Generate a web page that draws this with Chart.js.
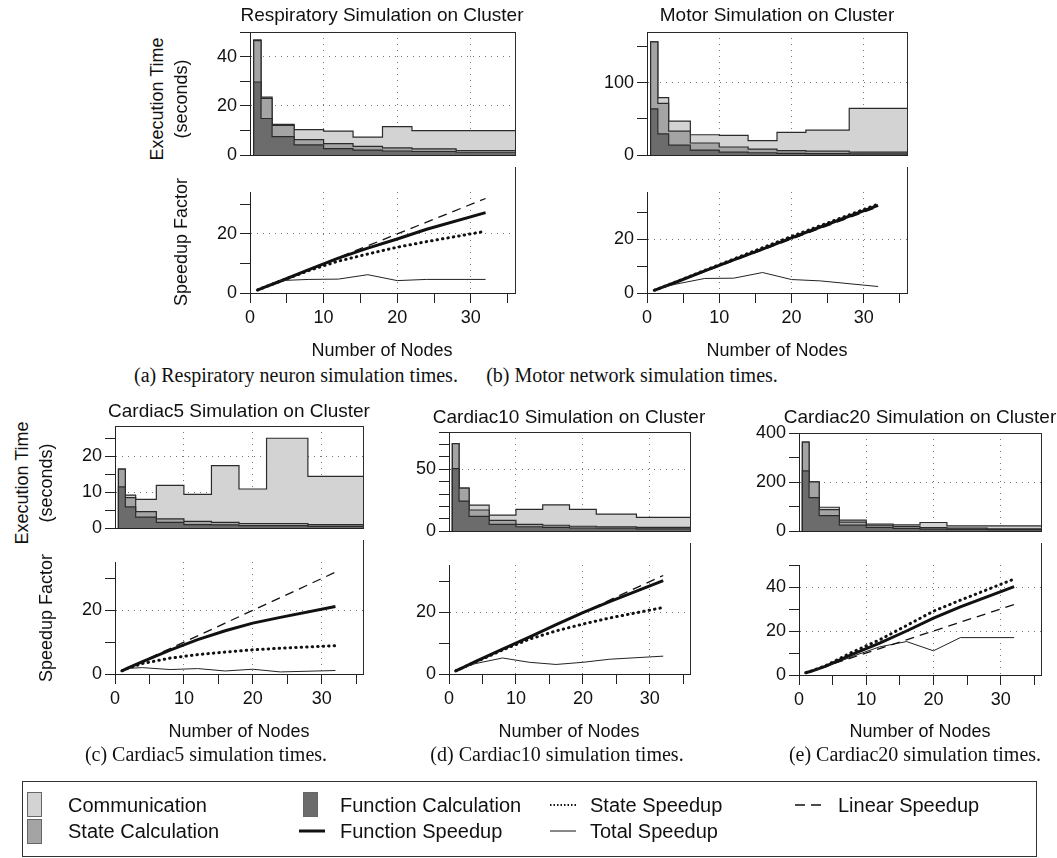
<!DOCTYPE html>
<html>
<head>
<meta charset="utf-8">
<title>Simulation times on cluster</title>
<script src="https://cdn.jsdelivr.net/npm/chart.js@4.4.1/dist/chart.umd.min.js"></script>
<style>
  html, body { margin: 0; background: #fff; }
  #fig { position: relative; width: 1057px; height: 858px; overflow: hidden;
         font-family: 'Liberation Sans', Arial, sans-serif; color: #111; }
  #fig canvas { position: absolute; }
  .lbl { position: absolute; white-space: nowrap; transform: translate(-50%, -50%); font-size: 18px; line-height: 1; }
  .ttl { font-size: 19px; }
  .vert { transform: translate(-50%, -50%) rotate(-90deg); }
  .cap { font-family: 'Liberation Serif', 'Times New Roman', serif; font-size: 20px; }
  #legend { position: absolute; left: 22px; top: 781px; width: 1015px; height: 76px; border: 1px solid #333; box-sizing: border-box; }
  .sw { position: absolute; width: 15px; height: 25px; border: 1px solid #666; box-sizing: border-box; }
  .leg { position: absolute; font-size: 20px; line-height: 1; transform: translateY(-50%); white-space: nowrap; }
  #legsvg { position: absolute; left: 0; top: 0; }
</style>
</head>
<body>
<div id="fig">
  <canvas id="aTop"></canvas><canvas id="aBot"></canvas>
  <canvas id="bTop"></canvas><canvas id="bBot"></canvas>
  <canvas id="cTop"></canvas><canvas id="cBot"></canvas>
  <canvas id="dTop"></canvas><canvas id="dBot"></canvas>
  <canvas id="eTop"></canvas><canvas id="eBot"></canvas>

  <div class="lbl ttl" style="left:382px;top:14px">Respiratory Simulation on Cluster</div>
  <div class="lbl ttl" style="left:777px;top:14px">Motor Simulation on Cluster</div>
  <div class="lbl ttl" style="left:239px;top:410px">Cardiac5 Simulation on Cluster</div>
  <div class="lbl ttl" style="left:569px;top:416px">Cardiac10 Simulation on Cluster</div>
  <div class="lbl ttl" style="left:920px;top:416px">Cardiac20 Simulation on Cluster</div>

  <div class="lbl vert" style="left:157px;top:99px">Execution Time</div>
  <div class="lbl vert" style="left:181px;top:99px">(seconds)</div>
  <div class="lbl vert" style="left:181px;top:242px">Speedup Factor</div>
  <div class="lbl vert" style="left:22px;top:483px">Execution Time</div>
  <div class="lbl vert" style="left:46px;top:483px">(seconds)</div>
  <div class="lbl vert" style="left:46px;top:618px">Speedup Factor</div>

  <div class="lbl" style="left:382px;top:350px">Number of Nodes</div>
  <div class="lbl" style="left:777px;top:350px">Number of Nodes</div>
  <div class="lbl" style="left:239px;top:731px">Number of Nodes</div>
  <div class="lbl" style="left:569px;top:731px">Number of Nodes</div>
  <div class="lbl" style="left:920px;top:731px">Number of Nodes</div>

  <div class="lbl cap" style="left:296px;top:375px">(a) Respiratory neuron simulation times.</div>
  <div class="lbl cap" style="left:632px;top:375px">(b) Motor network simulation times.</div>
  <div class="lbl cap" style="left:206px;top:754px">(c) Cardiac5 simulation times.</div>
  <div class="lbl cap" style="left:557px;top:754px">(d) Cardiac10 simulation times.</div>
  <div class="lbl cap" style="left:915px;top:754px">(e) Cardiac20 simulation times.</div>

  <div id="legend"></div>
  <div class="sw" style="left:27px;top:792px;background:#d3d3d3"></div>
  <div class="sw" style="left:27px;top:819px;background:#a4a4a4"></div>
  <div class="sw" style="left:303px;top:792px;background:#6c6c6c"></div>
  <svg id="legsvg" width="1057" height="858">
    <line x1="550" y1="805" x2="576" y2="805" stroke="#111" stroke-width="2" stroke-dasharray="1.5 2"/>
    <line x1="299" y1="831" x2="325" y2="831" stroke="#111" stroke-width="3"/>
    <line x1="550" y1="831" x2="576" y2="831" stroke="#111" stroke-width="1"/>
    <line x1="795" y1="805" x2="823" y2="805" stroke="#111" stroke-width="1.3" stroke-dasharray="10 6"/>
  </svg>
  <div class="leg" style="left:68px;top:805px">Communication</div>
  <div class="leg" style="left:68px;top:831px">State Calculation</div>
  <div class="leg" style="left:340px;top:805px">Function Calculation</div>
  <div class="leg" style="left:340px;top:831px">Function Speedup</div>
  <div class="leg" style="left:590px;top:805px">State Speedup</div>
  <div class="leg" style="left:590px;top:831px">Total Speedup</div>
  <div class="leg" style="left:838px;top:805px">Linear Speedup</div>
</div>

<script>
// node counts of every run
const nodes = [1, 2, 4, 8, 12, 16, 20, 24, 32];
const linearSpeedup = [1, 2, 4, 8, 12, 16, 20, 24, 32];

// (a) respiratory neuron simulation, seconds
const respFunc  = [29.7, 14.9, 7.5, 4.2, 2.7, 2.1, 1.7, 1.5, 1.2];
const respState = [16.8, 8.2, 4.6, 2.1, 2.0, 1.5, 1.3, 1.1, 0.7];
const respComm  = [0.3, 0.5, 0.4, 4.1, 5.1, 3.7, 8.6, 7.4, 8.1];
const respFuncSpeedup  = [1, 2, 3.9, 7.9, 11.8, 15.2, 18.3, 21.6, 27.2];
const respStateSpeedup = [1, 2, 3.9, 7.6, 10.8, 13.2, 15.5, 17.4, 20.9];
const respTotalSpeedup = [1, 2.2, 4.2, 4.6, 4.7, 6.2, 4.2, 4.6, 4.6];

// (b) motor network simulation
const motorFunc  = [63.9, 29.4, 13.9, 7.1, 4.2, 3.4, 2.5, 2.1, 1.7];
const motorState = [92.4, 42.0, 19.3, 9.7, 7.1, 5.0, 3.8, 3.4, 2.5];
const motorComm  = [0, 8.0, 13.9, 11.4, 16.0, 11.8, 25.2, 29.0, 60.5];
const motorFuncSpeedup  = [1, 2, 4, 8.2, 12.3, 16.3, 20.5, 24.5, 32.5];
const motorStateSpeedup = [1, 2, 4.1, 8.4, 12.6, 16.8, 21, 25, 33];
const motorTotalSpeedup = [1, 2, 3.3, 5.4, 5.5, 7.6, 5.0, 4.5, 2.4];

// (c) cardiac5
const c5Func  = [11.5, 5.9, 3.1, 1.6, 1.0, 0.9, 0.7, 0.7, 0.5];
const c5State = [4.9, 2.6, 1.5, 1.0, 0.9, 0.7, 0.6, 0.6, 0.5];
const c5Comm  = [0, 0.7, 3.4, 9.3, 7.5, 15.8, 9.6, 23.7, 13.4];
const c5FuncSpeedup  = [1, 2, 3.9, 7.5, 10.8, 13.6, 16, 17.8, 21.2];
const c5StateSpeedup = [1, 1.9, 3.3, 5.0, 6.1, 6.9, 7.6, 8.1, 8.9];
const c5TotalSpeedup = [1, 1.8, 2.0, 1.4, 1.7, 0.95, 1.5, 0.65, 1.1];

// (d) cardiac10
const c10Func  = [50.5, 24.3, 11.9, 5.5, 3.6, 3.1, 2.6, 2.4, 1.9];
const c10State = [20.2, 10.5, 5.2, 3.3, 1.9, 1.7, 1.4, 1.2, 1.2];
const c10Comm  = [0, 0, 3.9, 4.1, 12.1, 16.4, 13.6, 10.2, 8.1];
const c10FuncSpeedup  = [1, 2, 4.1, 8.1, 12, 16, 19.9, 23.5, 30.3];
const c10StateSpeedup = [1, 2, 3.9, 7.8, 11.3, 14, 16.2, 18.2, 21.6];
const c10TotalSpeedup = [1, 2, 3.4, 5.2, 3.8, 3.1, 3.8, 4.8, 5.8];

// (e) cardiac20
const c20Func  = [246, 137, 63.4, 24.4, 15.9, 11, 8.5, 7.3, 6.1];
const c20State = [117, 64, 24.4, 12.2, 8.5, 7.3, 6.1, 4.9, 3.7];
const c20Comm  = [0, 0, 9.8, 8.4, 4.9, 7.3, 20.8, 9.8, 12.2];
const c20FuncSpeedup  = [1, 1.9, 4, 9.5, 14.5, 20, 25.8, 31, 40.2];
const c20StateSpeedup = [1, 2, 4.3, 10.5, 16, 22.5, 29, 34, 43.6];
const c20TotalSpeedup = [1, 1.8, 3.7, 8.5, 12.8, 15.2, 11, 17, 17];

Chart.defaults.font.family = "'Liberation Sans', Arial, sans-serif";
Chart.defaults.font.size = 18;
Chart.defaults.color = '#111';

const FILL_COMM = '#d3d3d3', FILL_STATE = '#a4a4a4', FILL_FUNC = '#6c6c6c';
const X_MAX = 36;

// box lines the axes don't draw (top edge, right edge)
const framePlugin = {
  id: 'frame',
  afterDraw(chart, args, o) {
    const { ctx, chartArea: a } = chart;
    const x = Math.round(a.right) + 0.5;
    ctx.save();
    ctx.strokeStyle = '#2b2b2b';
    ctx.lineWidth = 1;
    ctx.beginPath();
    if (o.top) { ctx.moveTo(a.left, Math.round(a.top) + 0.5); ctx.lineTo(x, Math.round(a.top) + 0.5); }
    ctx.moveTo(x, o.rightFrom !== undefined ? o.rightFrom : a.top);
    ctx.lineTo(x, a.bottom);
    ctx.stroke();
    ctx.restore();
  }
};

const onStep = (v, step) => Math.abs(v / step - Math.round(v / step)) < 1e-6;

function gridAt(labelStep, max) {
  return c => {
    const v = c.tick ? c.tick.value : 0;
    return v > 0 && v < max - 1e-6 && onStep(v, labelStep) ? '#777' : 'rgba(0,0,0,0)';
  };
}

function yScale(max, step, labelStep, width, stacked) {
  return {
    type: 'linear', min: 0, max, stacked,
    afterFit: s => { s.width = width; },
    ticks: { stepSize: step, includeBounds: false, padding: 3, autoSkip: false,
             callback: v => (onStep(v, labelStep) ? v : '') },
    grid: { color: gridAt(labelStep, max), tickColor: '#222', tickLength: 10, tickBorderDash: [] },
    border: { color: '#222', dash: [1, 5] }
  };
}

function xScale(height, showTicks) {
  return {
    type: 'linear', min: 0, max: X_MAX,
    afterFit: s => { s.height = height; },
    ticks: { display: showTicks, stepSize: 5, includeBounds: false, padding: 4, autoSkip: false, maxRotation: 0,
             callback: v => (onStep(v, 10) ? v : '') },
    grid: { color: gridAt(10, X_MAX), tickColor: '#222', tickLength: 10, drawTicks: showTicks, tickBorderDash: [] },
    border: { color: '#222', dash: [1, 5] }
  };
}

// stacked stairs: each run's bar spans halfway to its neighbours,
// starting from zero just left of the first bar so its left edge is outlined
function stairs(func, state, comm) {
  const firstEdge = nodes[0] - (nodes[1] - nodes[0]) / 2;
  const xs = [firstEdge - 0.001, firstEdge, ...nodes, X_MAX];
  const pts = arr => {
    const v = [0, arr[0], ...arr, arr[arr.length - 1]];
    return xs.map((x, i) => ({ x, y: v[i] }));
  };
  return [
    { label: 'Function Calculation', data: pts(func), backgroundColor: FILL_FUNC, fill: 'origin' },
    { label: 'State Calculation', data: pts(state), backgroundColor: FILL_STATE, fill: '-1' },
    { label: 'Communication', data: pts(comm), backgroundColor: FILL_COMM, fill: '-1' }
  ].map(d => Object.assign(d, { stepped: 'middle', borderColor: '#2b2b2b', borderWidth: 1.2, pointRadius: 0 }));
}

function speedLines(func, state, total) {
  const pts = arr => nodes.map((x, i) => ({ x, y: arr[i] }));
  return [
    { label: 'Linear Speedup', data: pts(linearSpeedup), borderWidth: 1.3, borderDash: [9, 6] },
    { label: 'Total Speedup', data: pts(total), borderWidth: 1, borderColor: '#222' },
    { label: 'State Speedup', data: pts(state), borderWidth: 3, borderDash: [0.5, 5], borderCapStyle: 'round' },
    { label: 'Function Speedup', data: pts(func), borderWidth: 3 }
  ].map(d => Object.assign({ borderColor: '#111', pointRadius: 0, fill: false, tension: 0 }, d));
}

function makeChart(id, g, datasets, xs, ys, frame) {
  const c = document.getElementById(id);
  c.width = g.r - g.l + g.padL + g.padR;
  c.height = g.b - g.t + g.padT + g.padB;
  c.style.left = (g.l - g.padL) + 'px';
  c.style.top = (g.t - g.padT) + 'px';
  return new Chart(c, {
    type: 'line',
    data: { datasets },
    options: {
      responsive: false, animation: false, devicePixelRatio: 1,
      layout: { padding: { top: g.padT, right: g.padR, left: 0, bottom: 0 } },
      plugins: { legend: { display: false }, tooltip: { enabled: false }, frame },
      scales: { x: xs, y: ys }
    },
    plugins: [framePlugin]
  });
}

function panel(id, top, bot, times, speed, yTop, yBot) {
  const t = Object.assign({ padL: 70, padT: 14, padR: 6, padB: 2 }, top);
  const b = Object.assign({ padL: 70, padT: bot.t - top.b, padR: 6, padB: 40 }, bot);
  makeChart(id + 'Top', t, stairs(...times), xScale(t.padB, false),
            yScale(yTop[0], yTop[1], yTop[2], t.padL, true), { top: true });
  makeChart(id + 'Bot', b, speedLines(...speed), xScale(b.padB, true),
            yScale(yBot[0], yBot[1], yBot[2], b.padL, false), { top: false, rightFrom: 0 });
}

panel('a', { l: 250, t: 32, r: 515, b: 167 }, { l: 250, t: 192, r: 515, b: 293 },
      [respFunc, respState, respComm], [respFuncSpeedup, respStateSpeedup, respTotalSpeedup],
      [50, 10, 20], [34.2, 10, 20]);
panel('b', { l: 647, t: 32, r: 907, b: 167 }, { l: 647, t: 192, r: 907, b: 293 },
      [motorFunc, motorState, motorComm], [motorFuncSpeedup, motorStateSpeedup, motorTotalSpeedup],
      [170, 50, 100], [37.5, 10, 20]);
panel('c', { l: 115, t: 426, r: 363, b: 540 }, { l: 115, t: 562, r: 363, b: 674 },
      [c5Func, c5State, c5Comm], [c5FuncSpeedup, c5StateSpeedup, c5TotalSpeedup],
      [28.4, 5, 10], [35.2, 10, 20]);
panel('d', { l: 449, t: 432, r: 690, b: 543 }, { l: 449, t: 565, r: 690, b: 674 },
      [c10Func, c10State, c10Comm], [c10FuncSpeedup, c10StateSpeedup, c10TotalSpeedup],
      [80, 10, 50], [35.4, 10, 20]);
panel('e', { l: 799, t: 433, r: 1041, b: 543 }, { l: 799, t: 565, r: 1041, b: 675 },
      [c20Func, c20State, c20Comm], [c20FuncSpeedup, c20StateSpeedup, c20TotalSpeedup],
      [400, 100, 200], [50, 10, 20]);
</script>
</body>
</html>
